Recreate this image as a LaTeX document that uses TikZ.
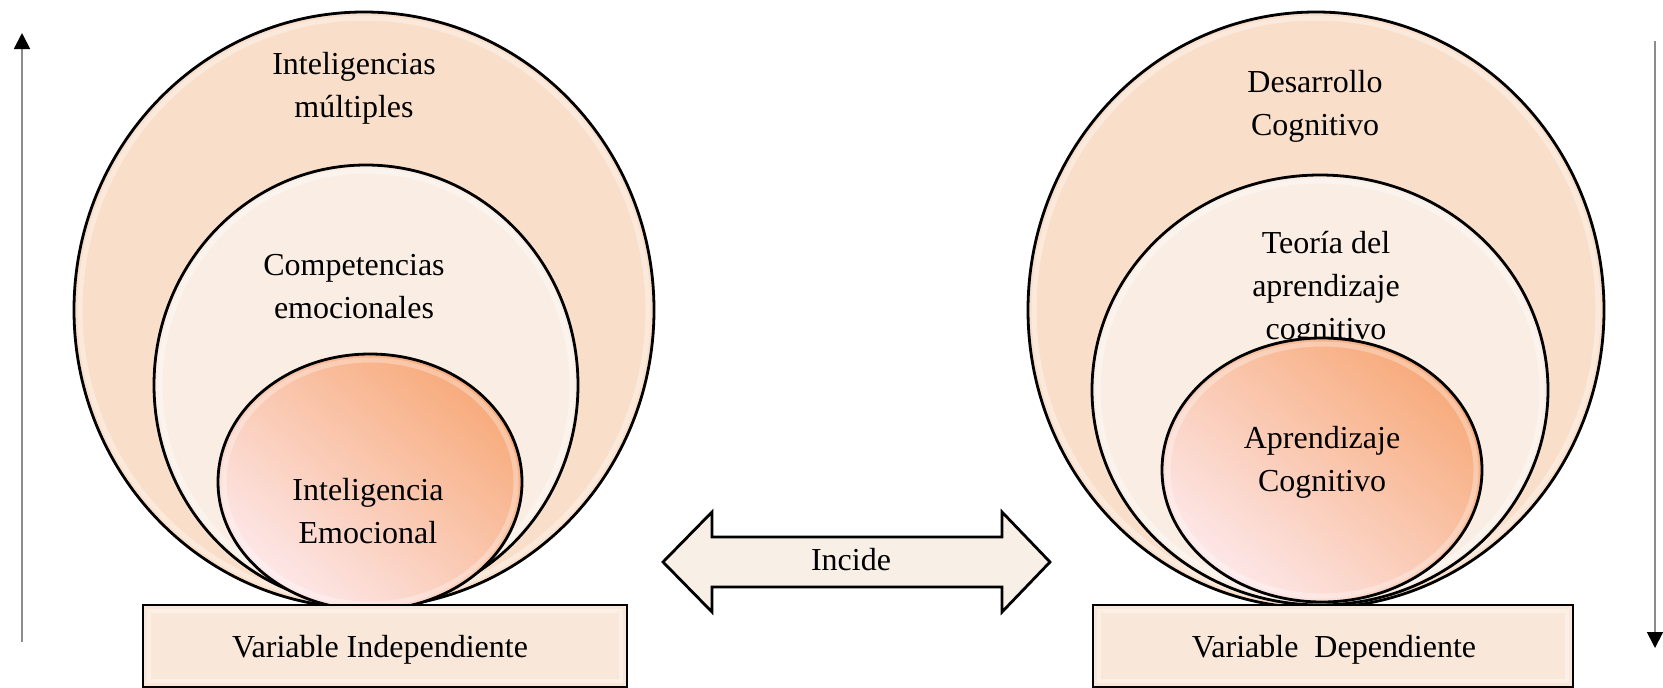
\documentclass[tikz,border=0pt]{standalone}
\usepackage{fontspec}
\setmainfont{Liberation Serif}
\usetikzlibrary{arrows.meta}
\definecolor{outerc}{HTML}{F9DECA}
\definecolor{midc}{HTML}{FAEEE4}
\definecolor{innerA}{HTML}{F7AA7A}
\definecolor{innerB}{HTML}{FDE8EA}
\definecolor{boxc}{HTML}{F9E7D9}
\definecolor{arrc}{HTML}{F8EFE7}
\definecolor{axisc}{HTML}{8C8C8C}
\begin{document}
\begin{tikzpicture}[x=1pt,y=-1pt,
  txt/.style={font=\fontsize{32}{43}\selectfont, align=center, inner sep=0pt},
  ring/.style={draw=black, line width=2.8pt},
  rim/.style={draw=white, line width=5pt, opacity=0.35},
  varbox/.style={draw=black, line width=2.8pt, fill=boxc},
  axisline/.style={draw=axisc, line width=1.8pt, -{Triangle[width=16pt,length=16pt,color=black]}},
  bigarrow/.style={draw=black, line width=2.8pt, fill=arrc, line join=miter}]
\useasboundingbox (0,0) rectangle (1663,688);

% ---------- axis arrows ----------
\coordinate (axLs) at (22,642);
\coordinate (axLe) at (22,33);
\coordinate (axRs) at (1655,41);
\coordinate (axRe) at (1655,648);
\draw[axisline] (axLs) -- (axLe);
\draw[axisline] (axRs) -- (axRe);

% ---------- left group ----------
\fill[outerc] (364,310) ellipse [x radius=290, y radius=298];
\draw[rim] (364,310) ellipse [x radius=284, y radius=292];
\draw[ring] (364,310) ellipse [x radius=290, y radius=298];
\node[txt] (lo) at (354,88) {Inteligencias\\múltiples};

\fill[midc] (366,385) ellipse [x radius=212, y radius=220];
\draw[rim] (366,385) ellipse [x radius=206, y radius=214];
\draw[ring] (366,385) ellipse [x radius=212, y radius=220];
\node[txt] (lm) at (354,287) {Competencias\\emocionales};

\shade[top color=innerA, bottom color=innerB, shading angle=-40] (370,482) ellipse [x radius=152, y radius=128];
\draw[rim, opacity=0.3] (370,482) ellipse [x radius=146, y radius=122];
\draw[ring] (370,482) ellipse [x radius=152, y radius=128];
\node[txt] (li) at (368,511) {Inteligencia\\Emocional};

\draw[varbox] (143,605) rectangle (627,687);
\draw[rim, line width=4pt, opacity=0.35] (149,611) rectangle (621,681);
\node[txt, anchor=base] (lv) at (380,657) {Variable Independiente};

% ---------- right group ----------
\fill[outerc] (1316,310) ellipse [x radius=288, y radius=298];
\draw[rim] (1316,310) ellipse [x radius=282, y radius=292];
\draw[ring] (1316,310) ellipse [x radius=288, y radius=298];
\node[txt] (ro) at (1315,106) {Desarrollo\\Cognitivo};

\fill[midc] (1320,390) ellipse [x radius=228, y radius=215];
\draw[rim] (1320,390) ellipse [x radius=222, y radius=209];
\draw[ring] (1320,390) ellipse [x radius=228, y radius=215];
\node[txt] (rm) at (1326,289) {Teoría del\\aprendizaje\\cognitivo};

\shade[top color=innerA, bottom color=innerB, shading angle=-40] (1322,470) ellipse [x radius=160, y radius=132];
\draw[rim, opacity=0.3] (1322,470) ellipse [x radius=154, y radius=126];
\draw[ring] (1322,470) ellipse [x radius=160, y radius=132];
\node[txt] (ri) at (1322,462) {Aprendizaje\\Cognitivo};

\draw[varbox] (1093,605) rectangle (1573,687);
\draw[rim, line width=4pt, opacity=0.35] (1099,611) rectangle (1567,681);
\node[txt, anchor=base] (rv) at (1334,657) {Variable\ \ Dependiente};

% ---------- double arrow ----------
\coordinate (tipL) at (663,562);
\coordinate (tipR) at (1050,562);
\draw[bigarrow] (tipL) -- (712,512) -- (712,537) -- (1002,537) -- (1002,512) -- (tipR)
  -- (1002,612) -- (1002,587) -- (712,587) -- (712,612) -- cycle;
\node[txt, anchor=base] (inc) at (851,570) {Incide};
\end{tikzpicture}
\end{document}
